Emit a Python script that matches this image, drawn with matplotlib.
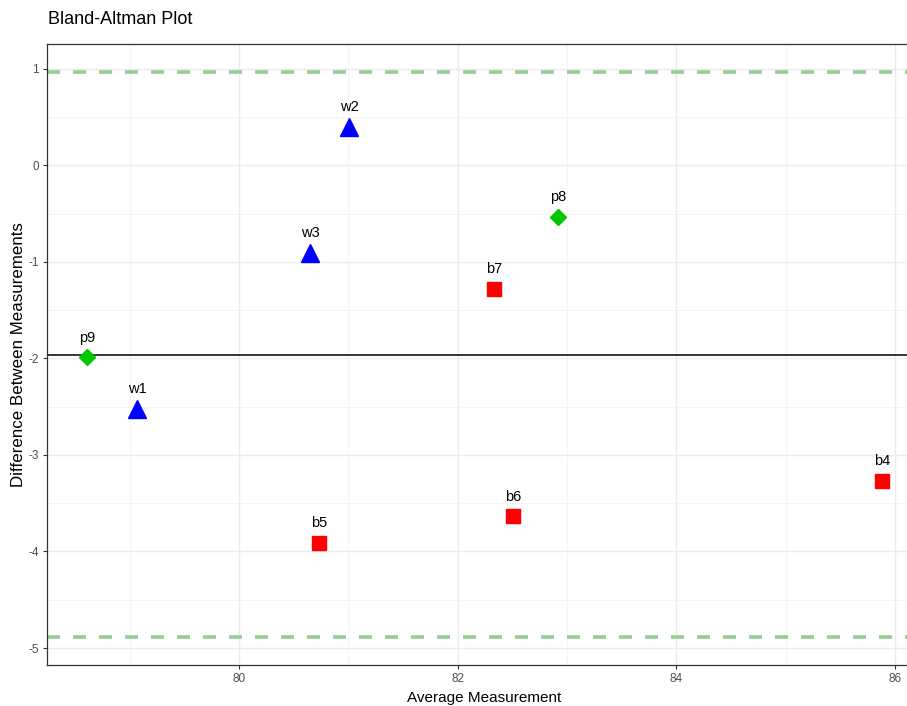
import numpy as np
import matplotlib
matplotlib.use("Agg")
import matplotlib.pyplot as plt
from matplotlib.ticker import MultipleLocator

plt.rcParams['font.family'] = ['Liberation Sans', 'DejaVu Sans']
plt.rcParams['axes.unicode_minus'] = False

# Paired measurements summarised as (average, difference)
labels = ["w1", "w2", "w3", "b4", "b5", "b6", "b7", "p8", "p9"]
groups = ["w", "w", "w", "b", "b", "b", "b", "p", "p"]
avg = [79.07, 81.01, 80.65, 85.88, 80.73, 82.51, 82.33, 82.92, 78.61]
diff = [-2.52, 0.40, -0.906, -3.265, -3.91, -3.635, -1.277, -0.535, -1.988]

styles = {
    "w": dict(marker="^", color="#0000FF", ms=13),
    "b": dict(marker="s", color="#FF0000", ms=9.5),
    "p": dict(marker="D", color="#00C800", ms=8.5),
}

d = np.array(diff)
mean_d = d.mean()
sd_d = d.std(ddof=1)
upper = mean_d + 1.96 * sd_d
lower = mean_d - 1.96 * sd_d

fig = plt.figure(figsize=(9.07, 7.06), dpi=100)
ax = fig.add_axes([47.3 / 907, 1 - 665 / 706, (921.6 - 47.3) / 907, (665 - 44) / 706])

# ggplot-style limits: 5% expansion of the data range
xr = max(avg) - min(avg)
ax.set_xlim(min(avg) - 0.05 * xr, max(avg) + 0.05 * xr)
yr = upper - lower
ax.set_ylim(lower - 0.05 * yr, upper + 0.05 * yr)

ax.xaxis.set_major_locator(MultipleLocator(2))
ax.xaxis.set_minor_locator(MultipleLocator(1))
ax.yaxis.set_major_locator(MultipleLocator(1))
ax.yaxis.set_minor_locator(MultipleLocator(0.5))
ax.grid(which="major", color="#EBEBEB", lw=1.0)
ax.grid(which="minor", color="#F2F2F2", lw=0.6)
ax.set_axisbelow(True)

for s in ax.spines.values():
    s.set_color("#333333")
    s.set_linewidth(0.9)
ax.tick_params(which="major", length=3, width=0.8, color="#333333",
               labelsize=8.5, labelcolor="#4D4D4D", pad=3)
ax.tick_params(which="minor", length=0)

ax.axhline(mean_d, color="black", lw=1.1, zorder=2)
for lim in (upper, lower):
    ax.axhline(lim, color="#96CC96", lw=2.6, ls=(0, (3.6, 3.6)), zorder=2)

for x, y, lab, g in zip(avg, diff, labels, groups):
    st = styles[g]
    ax.plot(x, y, ls="none", marker=st["marker"], color=st["color"],
            ms=st["ms"], mec=st["color"], zorder=3)
    ax.annotate(lab, (x, y), xytext=(0, 9), textcoords="offset points",
                ha="center", va="bottom", fontsize=10.5, color="black")

ax.set_xlabel("Average Measurement", fontsize=11, labelpad=4)
ax.set_ylabel("Difference Between Measurements", fontsize=12.2, labelpad=2)
fig.text(48 / 907, 1 - 20 / 706, "Bland-Altman Plot", fontsize=13,
         ha="left", va="center")

fig.savefig("out.png", dpi=100)
